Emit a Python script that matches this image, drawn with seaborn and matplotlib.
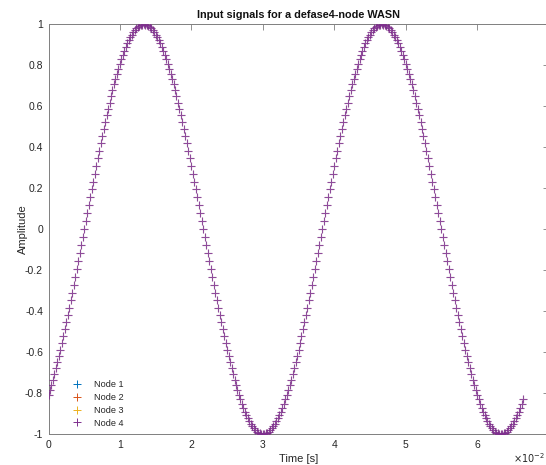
import numpy as np
import pandas as pd
import matplotlib
matplotlib.use("Agg")
import matplotlib.pyplot as plt
import seaborn as sns
from matplotlib.lines import Line2D

# ---- data -------------------------------------------------------------
fs = 4800  # sample rate [Hz]
amplitude = [
    -0.809, -0.785, -0.760, -0.734, -0.707, -0.679, -0.649, -0.619, -0.588, -0.556, -0.522, -0.489,
    -0.454, -0.419, -0.383, -0.346, -0.309, -0.271, -0.233, -0.195, -0.156, -0.118, -0.078, -0.039,
    0.000, 0.039, 0.078, 0.118, 0.156, 0.195, 0.233, 0.271, 0.309, 0.346, 0.383, 0.419, 0.454, 0.489,
    0.522, 0.556, 0.588, 0.619, 0.649, 0.679, 0.707, 0.734, 0.760, 0.785, 0.809, 0.831, 0.853, 0.872,
    0.891, 0.908, 0.924, 0.938, 0.951, 0.962, 0.972, 0.981, 0.988, 0.993, 0.997, 0.999, 1.000,
    0.999, 0.997, 0.993, 0.988, 0.981, 0.972, 0.962, 0.951, 0.938, 0.924, 0.908, 0.891, 0.872, 0.853,
    0.831, 0.809, 0.785, 0.760, 0.734, 0.707, 0.679, 0.649, 0.619, 0.588, 0.556, 0.522, 0.489, 0.454,
    0.419, 0.383, 0.346, 0.309, 0.271, 0.233, 0.195, 0.156, 0.118, 0.078, 0.039, 0.000,
    -0.039, -0.078, -0.118, -0.156, -0.195, -0.233, -0.271, -0.309, -0.346, -0.383, -0.419, -0.454,
    -0.489, -0.522, -0.556, -0.588, -0.619, -0.649, -0.679, -0.707, -0.734, -0.760, -0.785, -0.809,
    -0.831, -0.853, -0.872, -0.891, -0.908, -0.924, -0.938, -0.951, -0.962, -0.972, -0.981, -0.988,
    -0.993, -0.997, -0.999, -1.000,
    -0.999, -0.997, -0.993, -0.988, -0.981, -0.972, -0.962, -0.951, -0.938, -0.924, -0.908, -0.891,
    -0.872, -0.853, -0.831, -0.809, -0.785, -0.760, -0.734, -0.707, -0.679, -0.649, -0.619, -0.588,
    -0.556, -0.522, -0.489, -0.454, -0.419, -0.383, -0.346, -0.309, -0.271, -0.233, -0.195, -0.156,
    -0.118, -0.078, -0.039,
    0.000, 0.039, 0.078, 0.118, 0.156, 0.195, 0.233, 0.271, 0.309, 0.346, 0.383, 0.419, 0.454, 0.489,
    0.522, 0.556, 0.588, 0.619, 0.649, 0.679, 0.707, 0.734, 0.760, 0.785, 0.809, 0.831, 0.853, 0.872,
    0.891, 0.908, 0.924, 0.938, 0.951, 0.962, 0.972, 0.981, 0.988, 0.993, 0.997, 0.999, 1.000,
    0.999, 0.997, 0.993, 0.988, 0.981, 0.972, 0.962, 0.951, 0.938, 0.924, 0.908, 0.891, 0.872, 0.853,
    0.831, 0.809, 0.785, 0.760, 0.734, 0.707, 0.679, 0.649, 0.619, 0.588, 0.556, 0.522, 0.489, 0.454,
    0.419, 0.383, 0.346, 0.309, 0.271, 0.233, 0.195, 0.156, 0.118, 0.078, 0.039, 0.000,
    -0.039, -0.078, -0.118, -0.156, -0.195, -0.233, -0.271, -0.309, -0.346, -0.383, -0.419, -0.454,
    -0.489, -0.522, -0.556, -0.588, -0.619, -0.649, -0.679, -0.707, -0.734, -0.760, -0.785, -0.809,
    -0.831, -0.853, -0.872, -0.891, -0.908, -0.924, -0.938, -0.951, -0.962, -0.972, -0.981, -0.988,
    -0.993, -0.997, -0.999, -1.000,
    -0.999, -0.997, -0.993, -0.988, -0.981, -0.972, -0.962, -0.951, -0.938, -0.924, -0.908, -0.891,
    -0.872, -0.853, -0.831,
]
nodes = ["Node 1", "Node 2", "Node 3", "Node 4"]
node_colors = ["#0072BD", "#D95319", "#EDB120", "#7E2F8E"]
x_ticks = [0, 0.01, 0.02, 0.03, 0.04, 0.05, 0.06, 0.07]
x_tick_labels = ["0", "1", "2", "3", "4", "5", "6", ""]
y_ticks = [-1, -0.8, -0.6, -0.4, -0.2, 0, 0.2, 0.4, 0.6, 0.8, 1]
y_tick_labels = ["-1", "-0.8", "-0.6", "-0.4", "-0.2", "0", "0.2", "0.4", "0.6", "0.8", "1"]

time = np.arange(len(amplitude)) / fs
df = pd.concat(
    [pd.DataFrame({"time": time, "amp": amplitude, "node": n}) for n in nodes],
    ignore_index=True,
)

# ---- plot -------------------------------------------------------------
sns.set_theme(style="white")
plt.rcParams["font.family"] = ["Liberation Sans", "DejaVu Sans"]
txt = "#262626"
axc = "#7f7f7f"

fig = plt.figure(figsize=(5.46, 4.65), dpi=100)
ax = fig.add_axes([48.5 / 546, 1 - 434 / 465, 500 / 546, (434 - 24.5) / 465])

# identical signals: Node 4 is drawn last and hides the others
for i, (node, col) in enumerate(zip(nodes, node_colors)):
    sub = df[df["node"] == node]
    top = node == nodes[-1]
    sns.lineplot(
        data=sub, x="time", y="amp", color=col, estimator=None, sort=False,
        linestyle="", marker="+", markersize=5.5, markeredgewidth=0.8,
        markeredgecolor=col, alpha=0.85 if top else 0.06, ax=ax, zorder=3 + i,
    )

ax.set_xlim(0, 0.07)
ax.set_ylim(-1, 1)
ax.set_xticks(x_ticks)
ax.set_xticklabels(x_tick_labels)
ax.set_yticks(y_ticks)
ax.set_yticklabels(y_tick_labels)
ax.tick_params(direction="in", length=4, width=0.6, colors=axc, labelcolor=txt,
               labelsize=7.5, top=True, right=True, pad=4)
for sp in ax.spines.values():
    sp.set_visible(True)
    sp.set_color(axc)
    sp.set_linewidth(0.7)

ax.set_xlabel("Time [s]", fontsize=8, color=txt, labelpad=3)
ax.set_ylabel("Amplitude", fontsize=8, color=txt, labelpad=-2)
ax.set_title("Input signals for a defase4-node WASN", fontsize=7.8,
             fontweight="bold", color="#111111", pad=5)

fig.text(513 / 546, 1 - 458 / 465, r"$\times10^{-2}$", fontsize=7,
         color=txt, ha="left", va="center")

handles = [Line2D([], [], linestyle="", marker="+", color=c, markersize=6,
                  markeredgewidth=0.7) for c in node_colors]
ax.legend(handles, nodes, loc="lower left", bbox_to_anchor=(0.025, 0.0),
          frameon=False, fontsize=6.6, handletextpad=0.9, labelspacing=0.42,
          borderaxespad=0.3, labelcolor=txt)

fig.savefig("out.png", dpi=100)
